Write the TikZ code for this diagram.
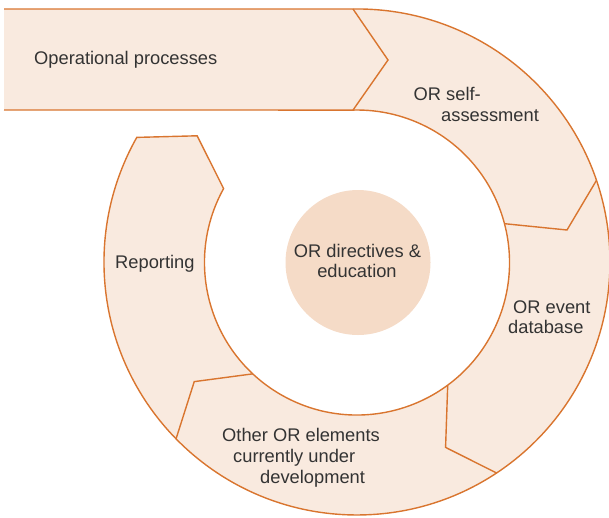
\documentclass[tikz,border=0pt]{standalone}
\usepackage{fontspec}
\setmainfont{Liberation Sans}
\usetikzlibrary{calc}
\definecolor{ringfill}{HTML}{F9EADF}
\definecolor{ringline}{HTML}{D9752F}
\definecolor{hubfill}{HTML}{F5DBC7}
\definecolor{labeltext}{HTML}{333333}
\begin{document}
\begin{tikzpicture}[x=1pt,y=1pt,
  band/.style={draw=ringline, fill=ringfill, line width=1.4pt, line join=miter},
  divider/.style={draw=ringline, line width=1.4pt, line join=miter},
  lbl/.style={inner sep=0pt, anchor=base west, text=labeltext,
    font=\fontsize{18.3}{21.5}\selectfont},
  clbl/.style={lbl, anchor=base},
]
\useasboundingbox (0,0) rectangle (609,-517);
\coordinate (C) at (357,-262.5);

% the bar and the ring, filled as one band (left end left open)
\draw[band] (4,-9) coordinate (barTL) -- (353,-9) coordinate (barTR)
  arc[start angle=90.9, end angle=-209.5, radius=253] coordinate (repOut)
  -- ($(C)+(141.6:204)$) coordinate (repTip)
  -- ($(C)+(151:152.5)$) coordinate (repIn)
  arc[start angle=151, end angle=451.5, radius=152.5] coordinate (barBR)
  -- (4,-110) coordinate (barBL);

% chevron joints between the stages
\coordinate (barTip) at (388,-60);
\draw[divider] (barTR) -- (barTip) -- (barBR);

\coordinate (aOut) at ($(C)+(18.9:253)$);
\coordinate (aTip) at ($(C)+(8.8:212.5)$);
\coordinate (aIn)  at ($(C)+(14.75:152.5)$);
\draw[divider] (aOut) -- (aTip) -- (aIn);

\coordinate (bOut) at ($(C)+(-56.4:253)$);
\coordinate (bTip) at ($(C)+(-64.4:205)$);
\coordinate (bIn)  at ($(C)+(-53.5:152.5)$);
\draw[divider] (bOut) -- (bTip) -- (bIn);

\coordinate (cOut) at ($(C)+(224.3:253)$);
\coordinate (cTip) at ($(C)+(216.2:201.7)$);
\coordinate (cIn)  at ($(C)+(226.9:152.5)$);
\draw[divider] (cOut) -- (cTip) -- (cIn);

% centre disc
\node[circle, fill=hubfill, minimum size=145pt, inner sep=0pt] (hub) at (358,-262.5) {};

% labels
\node[lbl] (ops) at (34,-64) {Operational processes};
\node[lbl] (selfA) at (413.5,-100) {OR self-};
\node[lbl] (selfB) at (441,-121.7) {assessment};
\node[lbl] (evA) at (513,-313) {OR event};
\node[lbl] (evB) at (508,-333.3) {database};
\node[lbl] (othA) at (222,-441) {Other OR elements};
\node[lbl] (othB) at (233,-462) {currently under};
\node[lbl] (othC) at (260,-483) {development};
\node[lbl] (rep) at (115,-268) {Reporting};
\node[clbl] (hubA) at (357.5,-257.3) {OR directives \&};
\node[clbl] (hubB) at (357,-277.7) {education};
\end{tikzpicture}
\end{document}
